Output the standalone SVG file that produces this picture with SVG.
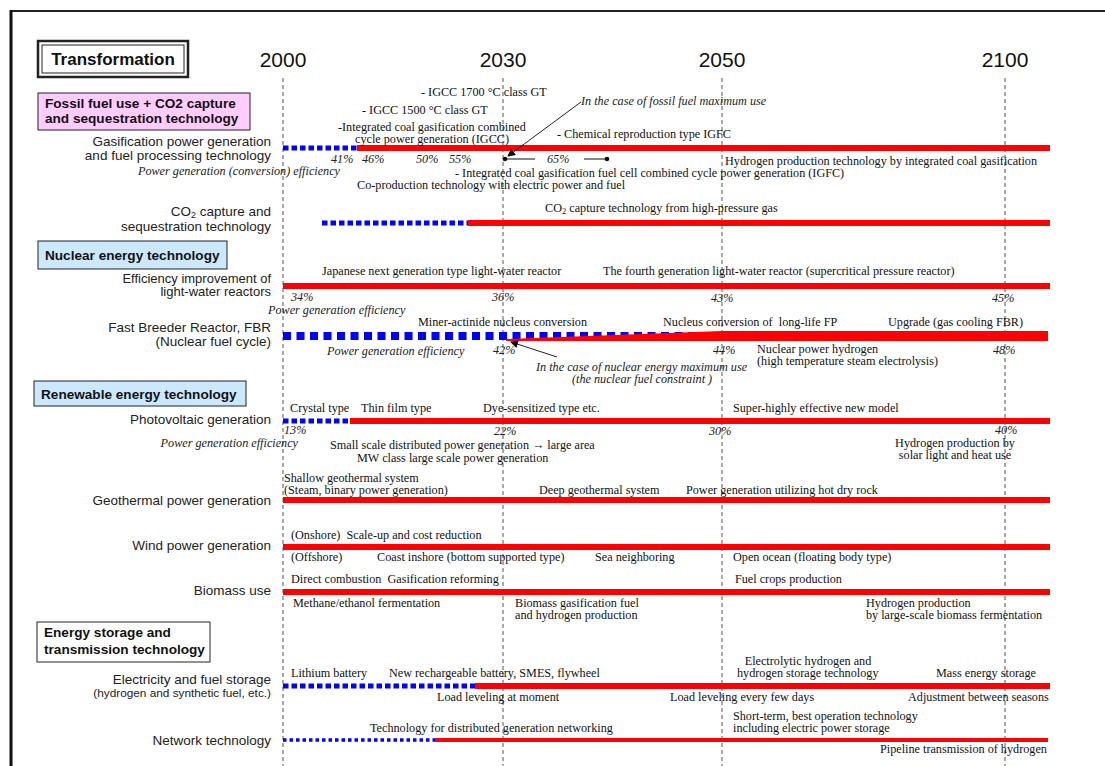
<svg xmlns="http://www.w3.org/2000/svg" width="1105" height="766" viewBox="0 0 1105 766">
<style>
.t{font-family:"Liberation Serif","Times New Roman",serif;font-size:12.2px;fill:#111}
.ti{font-family:"Liberation Serif","Times New Roman",serif;font-size:12.2px;font-style:italic;fill:#222}
.lb{font-family:"Liberation Sans",Arial,sans-serif;font-size:13.5px;fill:#222;text-anchor:end}
.sec{font-family:"Liberation Sans",Arial,sans-serif;font-size:13.6px;font-weight:bold;fill:#111}
.yr{font-family:"Liberation Sans",Arial,sans-serif;font-size:21px;fill:#111;text-anchor:middle}
.grid{stroke:#555;stroke-width:1;stroke-dasharray:4 3}
.bar{stroke:#f00;stroke-width:6}
.dsh{stroke:#00f;stroke-width:5;stroke-dasharray:5.5 3}
.dshL{stroke:#00f;stroke-width:8;stroke-dasharray:8 5.5}
.dshS{stroke:#00f;stroke-width:3.5;stroke-dasharray:3.5 3}
.arr{stroke:#222;stroke-width:1;fill:none}
</style>
<defs>
<marker id="ah" markerWidth="8" markerHeight="8" refX="7" refY="4" orient="auto" markerUnits="userSpaceOnUse">
<path d="M0,0 L8,4 L0,8 z" fill="#111"/>
</marker>
</defs>
<rect width="1105" height="766" fill="#fff"/>
<g id="page">
<line x1="10" y1="11" x2="1105" y2="11" stroke="#222" stroke-width="2"/>
<line x1="11" y1="10" x2="11" y2="766" stroke="#111" stroke-width="3"/>
</g>
<g id="axis">
<text class="yr" x="283" y="67">2000</text>
<text class="yr" x="503" y="67">2030</text>
<text class="yr" x="722" y="67">2050</text>
<text class="yr" x="1005" y="67">2100</text>
<line class="grid" x1="283" y1="78" x2="283" y2="766"/>
<line class="grid" x1="503" y1="78" x2="503" y2="766"/>
<line class="grid" x1="722" y1="78" x2="722" y2="766"/>
<line class="grid" x1="1005" y1="78" x2="1005" y2="766"/>
</g>
<g id="title">
<rect x="38" y="41" width="150" height="36" fill="#fff" stroke="#222" stroke-width="2.5"/>
<rect x="42" y="45" width="142" height="28" fill="#fff" stroke="#222" stroke-width="1"/>
<text x="113" y="65" text-anchor="middle" font-family="Liberation Sans, Arial, sans-serif" font-size="17" font-weight="bold" fill="#111">Transformation</text>
</g>
<g id="sec-fossil">
<rect x="38" y="93" width="212" height="37" fill="#ffccff" stroke="#222" stroke-width="1"/>
<text class="sec" x="45" y="108">Fossil fuel use + CO2 capture</text>
<text class="sec" x="45" y="123">and sequestration technology</text>
</g>
<g id="row-gasification">
<text class="lb" x="271" y="146">Gasification power generation</text>
<text class="lb" x="271" y="160">and fuel processing technology</text>
<text class="ti" x="340" y="175" text-anchor="end">Power generation (conversion) efficiency</text>
<line class="dsh" x1="283" y1="148" x2="357" y2="148"/>
<line class="bar" x1="357" y1="148" x2="1050" y2="148"/>
<text class="t" x="421" y="96">- IGCC 1700 °C class GT</text>
<text class="t" x="362" y="114">- IGCC 1500 °C class GT</text>
<text class="t" x="338" y="131">-Integrated coal gasification combined</text>
<text class="t" x="355" y="143">cycle power generation (IGCC)</text>
<text class="t" x="557" y="138">- Chemical reproduction type IGFC</text>
<text class="ti" x="581" y="105">In the case of fossil fuel maximum use</text>
<text class="ti" x="331" y="163">41%</text>
<text class="ti" x="362" y="163">46%</text>
<text class="ti" x="416" y="163">50%</text>
<text class="ti" x="449" y="163">55%</text>
<text class="ti" x="547" y="163">65%</text>
<circle cx="505" cy="159" r="2.3" fill="#111"/>
<line x1="505" y1="159" x2="535" y2="159" stroke="#111" stroke-width="1"/>
<line x1="584" y1="159" x2="607" y2="159" stroke="#111" stroke-width="1"/>
<circle cx="607" cy="159" r="2.3" fill="#111"/>
<text class="t" x="725" y="165">Hydrogen production technology by integrated coal gasification</text>
<text class="t" x="455" y="177">- Integrated coal gasification fuel cell combined cycle power generation (IGFC)</text>
<text class="t" x="357" y="189">Co-production technology with electric power and fuel</text>
</g>
<g id="row-co2">
<text class="lb" x="271" y="216">CO<tspan font-size="9" dy="2">2</tspan><tspan dy="-2"> capture and</tspan></text>
<text class="lb" x="271" y="231">sequestration technology</text>
<line class="dsh" x1="322" y1="223" x2="468" y2="223"/>
<line class="bar" x1="468" y1="223" x2="1050" y2="223"/>
<text class="t" x="545" y="212">CO<tspan font-size="8.5" dy="2">2</tspan><tspan dy="-2"> capture technology from high-pressure gas</tspan></text>
</g>
<g id="sec-nuclear">
<rect x="38" y="241" width="189" height="28" fill="#cce8ff" stroke="#222" stroke-width="1"/>
<text class="sec" x="45" y="260">Nuclear energy technology</text>
</g>
<g id="row-lwr">
<text class="lb" x="271" y="283" style="font-size:13px">Efficiency improvement of</text>
<text class="lb" x="271" y="296" style="font-size:13px">light-water reactors</text>
<line class="bar" x1="283" y1="286" x2="1050" y2="286"/>
<text class="t" x="322" y="275">Japanese next generation type light-water reactor</text>
<text class="t" x="603" y="275">The fourth generation light-water reactor (supercritical pressure reactor)</text>
<text class="ti" x="291" y="301">34%</text>
<text class="ti" x="492" y="301">36%</text>
<text class="ti" x="711" y="302">43%</text>
<text class="ti" x="992" y="302">45%</text>
<text class="ti" x="268" y="314">Power generation efficiency</text>
</g>
<g id="row-fbr">
<text class="lb" x="271" y="332">Fast Breeder Reactor, FBR</text>
<text class="lb" x="271" y="346">(Nuclear fuel cycle)</text>
<line class="dshL" x1="283" y1="336" x2="722" y2="336"/>
<polygon points="506,339 722,331 722,341 506,341" fill="#f00"/>
<rect x="722" y="331" width="326" height="10" fill="#f00"/>
<text class="t" x="418" y="326">Miner-actinide nucleus conversion</text>
<text class="t" x="663" y="326" xml:space="preserve">Nucleus conversion of  long-life FP</text>
<text class="t" x="888" y="326">Upgrade (gas cooling FBR)</text>
<text class="ti" x="327" y="355">Power generation efficiency</text>
<text class="ti" x="493" y="354">42%</text>
<text class="ti" x="713" y="354">44%</text>
<text class="ti" x="993" y="354">48%</text>
<text class="t" x="757" y="353">Nuclear power hydrogen</text>
<text class="t" x="757" y="365">(high temperature steam electrolysis)</text>
<text class="ti" x="536" y="371">In the case of nuclear energy maximum use</text>
<text class="ti" x="572" y="383">(the nuclear fuel constraint )</text>
</g>
<g id="sec-renewable">
<rect x="34" y="381" width="212" height="25" fill="#cce8ff" stroke="#222" stroke-width="1"/>
<text class="sec" x="41" y="399">Renewable energy technology</text>
</g>
<g id="row-pv">
<text class="lb" x="271" y="424">Photovoltaic generation</text>
<line class="dsh" x1="283" y1="421" x2="350" y2="421"/>
<line class="bar" x1="350" y1="421" x2="1050" y2="421"/>
<text class="t" x="290" y="412">Crystal type</text>
<text class="t" x="361" y="412">Thin film type</text>
<text class="t" x="483" y="412">Dye-sensitized type etc.</text>
<text class="t" x="733" y="412">Super-highly effective new model</text>
<text class="ti" x="284" y="434">13%</text>
<text class="ti" x="494" y="435">22%</text>
<text class="ti" x="709" y="435">30%</text>
<text class="ti" x="995" y="434">40%</text>
<text class="ti" x="298" y="447" text-anchor="end">Power generation efficiency</text>
<text class="t" x="330" y="449">Small scale distributed power generation → large area</text>
<text class="t" x="357" y="462">MW class large scale power generation</text>
<text class="t" x="955" y="447" text-anchor="middle">Hydrogen production by</text>
<text class="t" x="955" y="459" text-anchor="middle">solar light and heat use</text>
</g>
<g id="row-geothermal">
<text class="lb" x="271" y="505">Geothermal power generation</text>
<line class="bar" x1="283" y1="500" x2="1050" y2="500"/>
<text class="t" x="284" y="482">Shallow geothermal system</text>
<text class="t" x="284" y="494">(Steam, binary power generation)</text>
<text class="t" x="539" y="494">Deep geothermal system</text>
<text class="t" x="686" y="494">Power generation utilizing hot dry rock</text>
</g>
<g id="row-wind">
<text class="lb" x="271" y="550">Wind power generation</text>
<line class="bar" x1="283" y1="547" x2="1050" y2="547"/>
<text class="t" x="291" y="539" xml:space="preserve">(Onshore)  Scale-up and cost reduction</text>
<text class="t" x="291" y="561">(Offshore)</text>
<text class="t" x="377" y="561">Coast inshore (bottom supported type)</text>
<text class="t" x="595" y="561">Sea neighboring</text>
<text class="t" x="733" y="561">Open ocean (floating body type)</text>
</g>
<g id="row-biomass">
<text class="lb" x="271" y="595">Biomass use</text>
<line class="bar" x1="283" y1="592" x2="1050" y2="592"/>
<text class="t" x="291" y="583" xml:space="preserve">Direct combustion  Gasification reforming</text>
<text class="t" x="735" y="583">Fuel crops production</text>
<text class="t" x="293" y="607">Methane/ethanol fermentation</text>
<text class="t" x="515" y="607">Biomass gasification fuel</text>
<text class="t" x="515" y="619">and hydrogen production</text>
<text class="t" x="866" y="607">Hydrogen production</text>
<text class="t" x="866" y="619">by large-scale biomass fermentation</text>
</g>
<g id="sec-storage">
<rect x="37" y="622" width="173" height="40" fill="#fff" stroke="#222" stroke-width="1"/>
<text class="sec" x="44" y="637">Energy storage and</text>
<text class="sec" x="44" y="654">transmission technology</text>
</g>
<g id="row-storage">
<text class="lb" x="271" y="684">Electricity and fuel storage</text>
<text class="lb" x="271" y="697" style="font-size:11.8px">(hydrogen and synthetic fuel, etc.)</text>
<line class="dsh" x1="283" y1="686" x2="475" y2="686"/>
<line class="bar" x1="475" y1="686" x2="1050" y2="686"/>
<text class="t" x="291" y="677">Lithium battery</text>
<text class="t" x="389" y="677">New rechargeable battery, SMES, flywheel</text>
<text class="t" x="808" y="665" text-anchor="middle">Electrolytic hydrogen and</text>
<text class="t" x="737" y="677">hydrogen storage technology</text>
<text class="t" x="936" y="677">Mass energy storage</text>
<text class="t" x="437" y="701">Load leveling at moment</text>
<text class="t" x="670" y="701">Load leveling every few days</text>
<text class="t" x="908" y="701">Adjustment between seasons</text>
</g>
<g id="row-network">
<text class="lb" x="271" y="745">Network technology</text>
<line class="dshS" x1="283" y1="740" x2="435" y2="740"/>
<line x1="435" y1="740" x2="1048" y2="740" stroke="#f00" stroke-width="4"/>
<text class="t" x="370" y="732">Technology for distributed generation networking</text>
<text class="t" x="733" y="720">Short-term, best operation technology</text>
<text class="t" x="733" y="732">including electric power storage</text>
<text class="t" x="880" y="753">Pipeline transmission of hydrogen</text>
</g>
<g id="connectors">
<line class="arr" x1="581" y1="102" x2="508" y2="156" marker-end="url(#ah)"/>
<line class="arr" x1="557" y1="357" x2="511" y2="342" marker-end="url(#ah)"/>
</g>
</svg>
